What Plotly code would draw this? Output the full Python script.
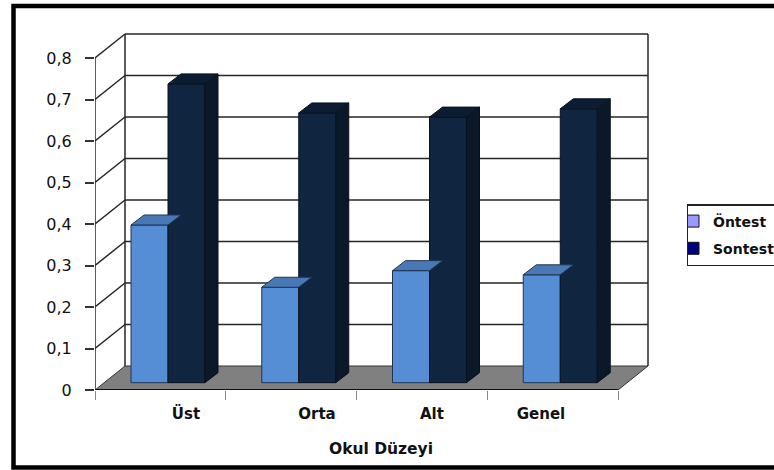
import plotly.graph_objects as go

categories = ["Üst", "Orta", "Alt", "Genel"]
ontest = [0.38, 0.23, 0.27, 0.26]
sontest = [0.72, 0.65, 0.64, 0.66]
y_ticks = [0, 0.1, 0.2, 0.3, 0.4, 0.5, 0.6, 0.7, 0.8]
y_tick_text = ["0", "0,1", "0,2", "0,3", "0,4", "0,5", "0,6", "0,7", "0,8"]
category_label_pos = [0.696, 1.698, 2.577, 3.411]
category_edges = [0, 1, 2, 3, 4]

W, H = 774, 470
PXX = 130.75  # px per category
PXY = 415.0   # px per value unit
L, T, B = 95, 33, 390
R = 667
DX, DY = 30 / PXX, 24 / PXY            # wall depth
BDX, BDY = 13 / PXX, 10 / PXY          # bar depth
BASE = 7.3 / PXY
BW = 37 / PXX
OFF = 36 / PXX

LIGHT, LIGHT_TOP = "#558ED5", "#4A78B4"
DARK, DARK_SIDE, DARK_TOP = "#10253F", "#0A1829", "#0C1D33"
LINE = "#262626"
TXT = "#111111"
FONT = "DejaVu Sans"


def faces(values, off, top=True, side=True):
    xs, ys = [], []
    for i, v in enumerate(values):
        x0, x1 = i + off, i + off + BW
        t = BASE + v
        if top:
            xs += [x0, x1, x1 + BDX, x0 + BDX, x0, None]
            ys += [t, t, t + BDY, t + BDY, t, None]
        if side:
            xs += [x1, x1 + BDX, x1 + BDX, x1, x1, None]
            ys += [BASE, BASE + BDY, t + BDY, t, BASE, None]
    return xs, ys


fig = go.Figure()

fig.add_bar(x=list(range(4)), y=ontest, base=BASE, width=BW, offset=OFF,
            marker=dict(color=LIGHT, line=dict(color="#1F3552", width=1)),
            showlegend=False, hoverinfo="skip")
fig.add_bar(x=list(range(4)), y=sontest, base=BASE, width=BW, offset=OFF + BW,
            marker=dict(color=DARK, line=dict(color="#08121F", width=1)),
            showlegend=False, hoverinfo="skip")

xs, ys = faces(ontest, OFF, side=False)
fig.add_scatter(x=xs, y=ys, mode="lines", fill="toself", fillcolor=LIGHT_TOP,
                line=dict(color="#1F3552", width=1), showlegend=False, hoverinfo="skip")
xs, ys = faces(sontest, OFF + BW, side=False)
fig.add_scatter(x=xs, y=ys, mode="lines", fill="toself", fillcolor=DARK_TOP,
                line=dict(color="#08121F", width=1), showlegend=False, hoverinfo="skip")
xs, ys = faces(sontest, OFF + BW, top=False)
fig.add_scatter(x=xs, y=ys, mode="lines", fill="toself", fillcolor=DARK_SIDE,
                line=dict(color="#08121F", width=1), showlegend=False, hoverinfo="skip")

# legend entries (swatch colours differ from the drawn bars in the reference)
fig.add_bar(x=[None], y=[None], name="Öntest", legendgroup="a",
            marker=dict(color="#9999FF", line=dict(color="#111111", width=1)))
fig.add_bar(x=[None], y=[None], name="Sontest", legendgroup="b",
            marker=dict(color="#000080", line=dict(color="#111111", width=1)))

shapes = []


def seg(x0, y0, x1, y1, color=LINE, width=1.5, layer="below"):
    shapes.append(dict(type="line", xref="x", yref="y", x0=x0, y0=y0, x1=x1, y1=y1,
                       line=dict(color=color, width=width), layer=layer))


# floor
fl_path = f"M 0 0 L 4 0 L {4 + DX} {DY} L {DX} {DY} Z"
shapes.append(dict(type="path", xref="x", yref="y", path=fl_path,
                   fillcolor="#808080", line=dict(color="#333333", width=1), layer="below"))
# walls and grid
top_v = y_ticks[-1]
seg(0, 0, 0, top_v)
seg(DX, DY, DX, top_v + DY)
seg(4 + DX, DY, 4 + DX, top_v + DY)
seg(0, 0, 4, 0, color="#111111", width=2, layer="above")
for v in y_ticks[1:]:
    seg(DX, v + DY, 4 + DX, v + DY)
    seg(0, v, DX, v + DY)

# outer frame, runs off the right edge
shapes.append(dict(type="rect", xref="paper", yref="paper",
                   x0=13.5 / W, x1=800 / W, y0=1 - 467.5 / H, y1=1 - 6 / H,
                   line=dict(color="#000000", width=4.5), fillcolor="rgba(0,0,0,0)", layer="above"))

fig.update_layout(
    width=W, height=H,
    margin=dict(l=0, r=0, t=0, b=0, autoexpand=False),
    paper_bgcolor="white", plot_bgcolor="rgba(0,0,0,0)",
    barmode="overlay",
    font=dict(family=FONT, color=TXT),
    shapes=shapes,
    xaxis=dict(
        automargin=False,
        domain=[L / W, R / W], range=[0, (R - L) / PXX], showgrid=False, zeroline=False,
        showline=False, tickmode="array", tickvals=category_label_pos, ticktext=categories,
        ticks="", ticklabelstandoff=13,
        tickfont=dict(family=FONT, size=15, color=TXT, weight="bold"),
        minor=dict(tickmode="array", tickvals=category_edges, ticks="outside", ticklen=9,
                   tickwidth=1, tickcolor="#888888", showgrid=False),
        title=dict(text="Okul Düzeyi", standoff=21,
                   font=dict(family=FONT, size=15.5, color=TXT, weight="bold")),
    ),
    yaxis=dict(
        automargin=False,
        domain=[1 - B / H, 1 - T / H], range=[0, (B - T) / PXY], showgrid=False, zeroline=False,
        showline=False, tickmode="array", tickvals=y_ticks, ticktext=y_tick_text,
        ticks="outside", ticklen=9, tickwidth=1.5, tickcolor="#333333", ticklabelstandoff=10,
        tickfont=dict(family=FONT, size=16, color=TXT),
    ),
    legend=dict(
        x=686.5 / W, xanchor="left", y=1 - 204 / H, yanchor="top",
        bgcolor="white", bordercolor="#222222", borderwidth=1.5,
        font=dict(family=FONT, size=14, color=TXT, weight="bold"),
        indentation=-15, itemwidth=30, traceorder="grouped", tracegroupgap=6,
        entrywidth=60, entrywidthmode="pixels",
    ),
)

fig.write_html(
    "out.html",
    config={"displayModeBar": False},
    post_script="document.body.style.margin='0';document.body.style.overflow='hidden';",
)
